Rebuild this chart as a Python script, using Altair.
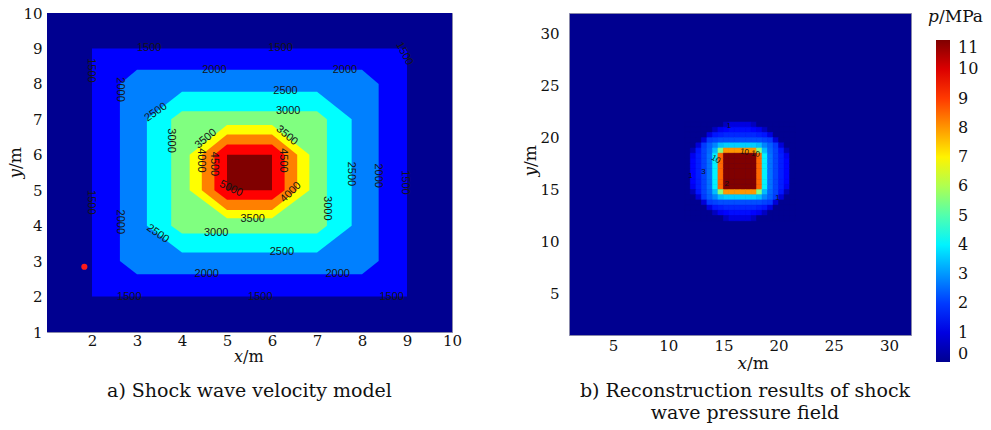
import altair as alt
import pandas as pd

SERIF = "DejaVu Serif, serif"
SANS = "Liberation Sans, Arial, sans-serif"

# ---------------- a) shock wave velocity model (m/s) ----------------
band_names = ["<1500", "1500-2000", "2000-2500", "2500-3000", "3000-3500",
              "3500-4000", "4000-4500", "4500-5000", ">5000"]
band_colors = ["#000090", "#0000FF", "#0080FF", "#00FFFF", "#80FF80",
               "#FFFF00", "#FF8000", "#FF0000", "#800000"]
# polygon outline of each filled band (x/m, y/m), outermost first
band_x = [
    [1, 10, 10, 1],
    [2, 9, 9, 2],
    [3, 8, 8.37, 8.37, 8, 3, 2.62, 2.62],
    [4, 7, 7.77, 7.77, 7, 4, 3.22, 3.22],
    [4, 7, 7.22, 7.22, 7, 4, 3.76, 3.76],
    [5, 6, 6.83, 6.83, 6, 5, 4.17, 4.17],
    [5, 6, 6.56, 6.56, 6, 5, 4.44, 4.44],
    [5, 6, 6.28, 6.28, 6, 5, 4.72, 4.72],
    [5, 6, 6, 5],
]
band_y = [
    [10, 10, 1, 1],
    [9, 9, 2, 2],
    [8.40, 8.40, 8, 3, 2.63, 2.63, 3, 8],
    [7.78, 7.78, 7, 4, 3.24, 3.24, 4, 7],
    [7.23, 7.23, 7, 4, 3.78, 3.78, 4, 7],
    [6.84, 6.84, 6, 5, 4.21, 4.21, 5, 6],
    [6.57, 6.57, 6, 5, 4.44, 4.44, 5, 6],
    [6.29, 6.29, 6, 5, 4.73, 4.73, 5, 6],
    [6, 6, 5, 5],
]

# contour labels
clabel_text = ["1500", "1500", "1500", "1500", "1500", "1500", "1500", "1500", "1500",
               "2000", "2000", "2000", "2000", "2000", "2000", "2000",
               "2500", "2500", "2500", "2500", "2500",
               "3000", "3000", "3000", "3000",
               "3500", "3500", "3500",
               "4000", "4000",
               "4500", "4500",
               "5000"]
clabel_x = [3.27, 6.19, 8.94, 1.98, 1.98, 2.83, 5.74, 8.66, 8.96,
            4.72, 7.62, 2.62, 2.62, 4.55, 7.46, 8.35,
            6.30, 3.42, 3.46, 6.22, 7.76,
            6.36, 3.76, 4.76, 7.22,
            4.53, 6.33, 5.57,
            4.42, 6.42,
            4.72, 6.24,
            5.09]
clabel_y = [9.0, 9.0, 8.85, 8.38, 4.66, 2.0, 2.0, 2.0, 5.22,
            8.40, 8.40, 7.84, 4.11, 2.63, 2.63, 5.41,
            7.81, 7.20, 3.77, 3.25, 5.46,
            7.23, 6.40, 3.78, 4.49,
            6.45, 6.54, 4.19,
            5.84, 4.94,
            5.74, 5.84,
            5.04]
clabel_angle = [0, 0, 62, 90, 90, 0, 0, 0, 90,
                0, 0, 90, 90, 0, 0, 90,
                0, 325, 35, 0, 90,
                0, 90, 0, 90,
                320, 40, 0,
                90, 315,
                90, 90,
                25]

# source point
src_x = [1.83]
src_y = [2.84]

# ---------------- b) reconstructed pressure field (MPa) ----------------
cell_x = [11.75, 12.25, 12.75, 13.25, 13.75, 14.25, 14.75, 15.25, 15.75, 16.25,
          16.75, 17.25, 17.75, 18.25, 18.75, 19.25, 19.75, 20.25, 20.75, 21.25]
cell_y = [21.25, 20.75, 20.25, 19.75, 19.25, 18.75, 18.25, 17.75, 17.25, 16.75,
          16.25, 15.75, 15.25, 14.75, 14.25, 13.75, 13.25, 12.75, 12.25]
p_grid = [
    [0, 0, 0, 0, 0, 0, 0, 0.6, 1.0, 1.0, 1.0, 1.0, 0.6, 0, 0, 0, 0, 0, 0, 0],
    [0, 0, 0, 0, 0, 0.6, 1.2, 1.4, 1.5, 1.5, 1.5, 1.5, 1.4, 1.2, 0.6, 0, 0, 0, 0, 0],
    [0, 0, 0, 0, 1.0, 1.6, 1.7, 1.8, 1.8, 1.8, 1.8, 1.8, 1.8, 1.7, 1.6, 1.0, 0, 0, 0, 0],
    [0, 0, 0, 0.9, 2.0, 2.1, 2.2, 2.2, 2.2, 2.2, 2.2, 2.2, 2.2, 2.2, 2.1, 2.0, 0.9, 0, 0, 0],
    [0, 0, 0.9, 2.0, 2.4, 2.8, 3.4, 3.6, 3.6, 3.6, 3.6, 3.6, 3.6, 3.4, 2.8, 2.4, 2.0, 0.9, 0, 0],
    [0, 0.5, 1.6, 2.1, 2.5, 3.4, 5.5, 8.0, 8.0, 8.0, 8.0, 8.0, 8.0, 5.5, 3.4, 2.5, 2.1, 1.6, 0.5, 0],
    [0, 1.2, 1.7, 2.1, 2.6, 4.0, 8.5, 11, 11, 11, 11, 11, 11, 8.5, 4.0, 2.6, 2.1, 1.7, 1.2, 0],
    [0, 1.4, 1.7, 2.1, 2.6, 4.0, 8.5, 11, 11, 11, 11, 11, 11, 8.5, 4.0, 2.6, 2.1, 1.7, 1.4, 0],
    [0, 1.4, 1.7, 2.1, 2.6, 4.0, 8.5, 11, 11, 11, 11, 11, 11, 8.5, 4.0, 2.6, 2.1, 1.7, 1.4, 0],
    [0, 1.4, 1.7, 2.1, 2.6, 4.0, 8.5, 11, 11, 11, 11, 11, 11, 8.5, 4.0, 2.6, 2.1, 1.7, 1.4, 0],
    [0, 1.4, 1.7, 2.1, 2.6, 4.0, 8.5, 11, 11, 11, 11, 11, 11, 8.5, 4.0, 2.6, 2.1, 1.7, 1.4, 0],
    [0, 1.4, 1.7, 2.1, 2.6, 4.0, 8.5, 11, 11, 11, 11, 11, 11, 8.5, 4.0, 2.6, 2.1, 1.7, 1.4, 0],
    [0, 1.2, 1.7, 2.1, 2.6, 4.0, 8.5, 11, 11, 11, 11, 11, 11, 8.5, 4.0, 2.6, 2.1, 1.7, 1.2, 0],
    [0, 0.5, 1.6, 2.1, 2.5, 3.4, 5.5, 8.0, 8.0, 8.0, 8.0, 8.0, 8.0, 5.5, 3.4, 2.5, 2.1, 1.6, 0.5, 0],
    [0, 0, 0.9, 2.0, 2.4, 2.8, 3.4, 3.6, 3.6, 3.6, 3.6, 3.6, 3.6, 3.4, 2.8, 2.4, 2.0, 0.9, 0, 0],
    [0, 0, 0, 0.9, 2.0, 2.1, 2.2, 2.2, 2.2, 2.2, 2.2, 2.2, 2.2, 2.2, 2.1, 2.0, 0.9, 0, 0, 0],
    [0, 0, 0, 0, 1.0, 1.6, 1.7, 1.8, 1.8, 1.8, 1.8, 1.8, 1.8, 1.7, 1.6, 1.0, 0, 0, 0, 0],
    [0, 0, 0, 0, 0, 0.6, 1.2, 1.4, 1.5, 1.5, 1.5, 1.5, 1.4, 1.2, 0.6, 0, 0, 0, 0, 0],
    [0, 0, 0, 0, 0, 0, 0, 0.6, 1.0, 1.0, 1.0, 1.0, 0.6, 0, 0, 0, 0, 0, 0, 0],
]
CELL = 0.5

# small contour labels around the blast region
plab_text = ["1", "1", "3", "10", "10 10", "2", "1"]
plab_x = [15.5, 12.0, 13.2, 14.3, 17.4, 15.3, 19.9]
plab_y = [21.1, 16.3, 16.7, 17.9, 18.5, 15.5, 14.2]
plab_angle = [0, 0, 0, 30, 10, 0, 0]

jet_domain = [0, 1.375, 4.125, 6.875, 9.625, 11]
jet_range = ["#000090", "#0000FF", "#00FFFF", "#FFFF00", "#FF0000", "#800000"]
p_ticks = list(range(0, 12))

# ---------------- tables ----------------
band_rows = []
for name, xs, ys in zip(band_names, band_x, band_y):
    for k, (xv, yv) in enumerate(zip(xs, ys)):
        band_rows.append({"band": name, "x": xv, "y": yv, "k": k})
bands_df = pd.DataFrame(band_rows)

clabels_df = pd.DataFrame({"t": clabel_text, "x": clabel_x, "y": clabel_y, "a": clabel_angle})
src_df = pd.DataFrame({"x": src_x, "y": src_y})

cell_rows = []
for j, yc in enumerate(cell_y):
    for i, xc in enumerate(cell_x):
        cell_rows.append({"x": xc - CELL / 2, "x2": xc + CELL / 2,
                          "y": yc - CELL / 2, "y2": yc + CELL / 2,
                          "p": p_grid[j][i]})
cells_df = pd.DataFrame(cell_rows)
plab_df = pd.DataFrame({"t": plab_text, "x": plab_x, "y": plab_y, "a": plab_angle})

one = pd.DataFrame({"v": [0]})


def label(text, x, y, angle=0, align="center", italic=False, size=17, baseline="alphabetic"):
    return alt.Chart(one).mark_text(
        text=text, font=SERIF, fontSize=size, fontStyle="italic" if italic else "normal",
        color="#111111", align=align, baseline=baseline, angle=angle
    ).encode(x=alt.value(x), y=alt.value(y))


# ---------------- panel a ----------------
xa = alt.X("x:Q", scale=alt.Scale(domain=[1, 10], nice=False, zero=False),
           axis=alt.Axis(values=list(range(2, 11)), title=None, labelPadding=1))
ya = alt.Y("y:Q", scale=alt.Scale(domain=[1, 10], nice=False, zero=False),
           axis=alt.Axis(values=list(range(1, 11)), title=None, labelPadding=5))

band_layers = []
for name, color in zip(band_names, band_colors):
    band_layers.append(
        alt.Chart(bands_df).transform_filter(alt.datum.band == name)
        .mark_line(filled=True, color=color)
        .encode(x=xa, y=ya, order="k:Q")
    )

clabels = alt.Chart(clabels_df).mark_text(
    font=SANS, fontSize=11, color="#151515", baseline="middle"
).encode(x=xa, y=ya, text="t:N", angle=alt.Angle("a:Q", scale=None))

src = alt.Chart(src_df).mark_circle(size=38, color="#FF1A1A", opacity=1).encode(x=xa, y=ya)

panel_a = alt.layer(
    *band_layers, clabels, src,
    label("x", 196, 349, align="right", italic=True, size=16),
    label("/m", 196, 349, align="left", size=16),
    label("y", -31, 156, angle=270, align="right", italic=True, baseline="middle"),
    label("/m", -31, 156, angle=270, align="left", baseline="middle"),
).properties(
    width=405, height=319,
    title=alt.TitleParams("a) Shock wave velocity model", orient="bottom", anchor="middle",
                          font=SERIF, fontSize=19, fontWeight="normal", color="#111111", offset=17),
)

# ---------------- panel b ----------------
xb = alt.X("x:Q", scale=alt.Scale(domain=[1, 32], nice=False, zero=False),
           axis=alt.Axis(values=[5, 10, 15, 20, 25, 30], title=None, labelPadding=3))
yb = alt.Y("y:Q", scale=alt.Scale(domain=[1, 32], nice=False, zero=False),
           axis=alt.Axis(values=[5, 10, 15, 20, 25, 30], title=None, labelPadding=10))
pscale = alt.Scale(domain=jet_domain, range=jet_range, interpolate="rgb")

field = alt.Chart(cells_df).mark_rect(strokeWidth=0.6).encode(
    x=xb, x2="x2:Q", y=yb, y2="y2:Q",
    color=alt.Color("p:Q", scale=pscale, legend=alt.Legend(
        orient="none", legendX=367, legendY=27, direction="vertical",
        gradientLength=322, gradientThickness=14, title=None, values=p_ticks,
        labelFont=SERIF, labelFontSize=16, labelColor="#111111", labelOverlap=False,
        labelOffset=8, gradientStrokeWidth=0,
    )),
    stroke=alt.Color("p:Q", scale=pscale, legend=None),
)

plabs = alt.Chart(plab_df).mark_text(
    font=SANS, fontSize=8, color="#111111", baseline="middle"
).encode(x=xb, y=yb, text="t:N", angle=alt.Angle("a:Q", scale=None))

panel_b = alt.layer(
    field, plabs,
    label("x", 178, 356, align="right", italic=True, size=17),
    label("/m", 178, 356, align="left", size=17),
    label("y", -38, 154, angle=270, align="right", italic=True, baseline="middle", size=17),
    label("/m", -38, 154, angle=270, align="left", baseline="middle", size=17),
    label("p", 370, 9, align="right", italic=True, size=17),
    label("/MPa", 370, 9, align="left", size=17),
).properties(
    width=342, height=322,
    title=alt.TitleParams(["b) Reconstruction results of shock", "wave pressure field"],
                          orient="bottom", anchor="middle", frame="group", dx=5,
                          font=SERIF, fontSize=19, fontWeight="normal", color="#111111",
                          lineHeight=22, offset=10),
).resolve_legend(color="independent")

chart = alt.hconcat(panel_a, panel_b, spacing=58).properties(
    padding={"left": 6, "top": 5, "right": 0, "bottom": 0},
    background="white",
).configure_view(
    stroke="#8888AA", strokeWidth=1, fill="#000090",
).configure_axis(
    labelFont=SERIF, labelFontSize=15, labelColor="#111111",
    ticks=False, domain=False, grid=False, labelOverlap=False, labelFlush=False,
)

chart.save("out.html", embed_options={"renderer": "svg", "actions": False})
